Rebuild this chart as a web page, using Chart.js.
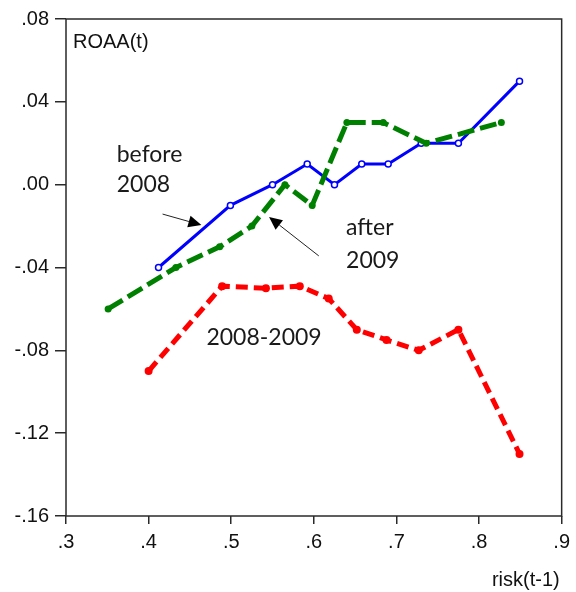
<!DOCTYPE html>
<html>
<head>
<meta charset="utf-8">
<script src="https://cdn.jsdelivr.net/npm/chart.js@4/dist/chart.umd.min.js"></script>
<style>
  body { margin: 0; background: #fff; }
  #grafico { display: block; }
</style>
</head>
<body>
<canvas id="grafico" width="576" height="592"></canvas>
<script>
// datos
const xTicks = [0.3, 0.4, 0.5, 0.6, 0.7, 0.8, 0.9];
const xTickLabels = ['.3', '.4', '.5', '.6', '.7', '.8', '.9'];
const yTicks = [-0.16, -0.12, -0.08, -0.04, 0.00, 0.04, 0.08];
const yTickLabels = ['-.16', '-.12', '-.08', '-.04', '.00', '.04', '.08'];

const antesX = [0.412, 0.499, 0.550, 0.592, 0.625, 0.658, 0.690, 0.730, 0.775, 0.849];
const antesY = [-0.040, -0.010, 0.000, 0.010, 0.000, 0.010, 0.010, 0.020, 0.020, 0.050];

const despuesX = [0.351, 0.433, 0.486, 0.525, 0.565, 0.598, 0.640, 0.684, 0.736, 0.827];
const despuesY = [-0.060, -0.040, -0.030, -0.020, 0.000, -0.010, 0.030, 0.030, 0.020, 0.030];

const crisisX = [0.400, 0.489, 0.542, 0.583, 0.618, 0.652, 0.688, 0.727, 0.775, 0.849];
const crisisY = [-0.090, -0.049, -0.050, -0.049, -0.055, -0.070, -0.075, -0.080, -0.070, -0.130];

const puntos = (xs, ys) => xs.map((x, i) => ({ x: x, y: ys[i] }));

// textos y flechas dentro del grafico (coordenadas de datos)
const textos = [
    { texto: 'before', x: 0.3614, y: 0.0143 },
    { texto: '2008', x: 0.3614, y: -0.0001 },
    { texto: 'after', x: 0.639, y: -0.0209 },
    { texto: '2009', x: 0.639, y: -0.0368 },
    { texto: '2008-2009', x: 0.470, y: -0.074 }
];
const flechas = [
    { x1: 0.4169, y1: -0.0142, x2: 0.4639, y2: -0.0195 },
    { x1: 0.606, y1: -0.0344, x2: 0.5458, y2: -0.0156 }
];

const ctx = document.getElementById('grafico').getContext('2d');

const marco = {
    id: 'marco',
    afterDatasetsDraw(chart) {
        const c = chart.ctx;
        const a = chart.chartArea;
        const sx = chart.scales.x;
        const sy = chart.scales.y;
        c.save();
        c.strokeStyle = '#2a2a2a';
        c.lineWidth = 1.5;
        c.strokeRect(a.left, a.top, a.right - a.left, a.bottom - a.top);

        // titulos de ejes
        c.fillStyle = '#111';
        c.font = '20px "Liberation Sans", Arial, sans-serif';
        c.textBaseline = 'middle';
        c.textAlign = 'left';
        c.fillText('ROAA(t)', a.left + 7, a.top + 23);
        c.textAlign = 'right';
        c.fillText('risk(t-1)', a.right - 2, 580);

        // etiquetas
        c.font = '23px Lato, "Open Sans", sans-serif';
        c.textAlign = 'left';
        c.fillStyle = '#1a1a1a';
        textos.forEach(t => {
            c.fillText(t.texto, sx.getPixelForValue(t.x), sy.getPixelForValue(t.y));
        });

        // flechas
        flechas.forEach(f => {
            const x1 = sx.getPixelForValue(f.x1), y1 = sy.getPixelForValue(f.y1);
            const x2 = sx.getPixelForValue(f.x2), y2 = sy.getPixelForValue(f.y2);
            const ang = Math.atan2(y2 - y1, x2 - x1);
            const largo = 13, ancho = 6;
            const bx = x2 - largo * Math.cos(ang), by = y2 - largo * Math.sin(ang);
            c.strokeStyle = '#222';
            c.lineWidth = 1;
            c.beginPath();
            c.moveTo(x1, y1);
            c.lineTo(bx, by);
            c.stroke();
            c.fillStyle = '#000';
            c.beginPath();
            c.moveTo(x2, y2);
            c.lineTo(bx + ancho * Math.sin(ang), by - ancho * Math.cos(ang));
            c.lineTo(bx - ancho * Math.sin(ang), by + ancho * Math.cos(ang));
            c.closePath();
            c.fill();
        });
        c.restore();
    }
};

new Chart(ctx, {
    type: 'line',
    data: {
        datasets: [
            {
                label: 'after 2009',
                data: puntos(despuesX, despuesY),
                borderColor: '#008000',
                backgroundColor: '#008000',
                borderWidth: 5,
                borderDash: [17, 6],
                pointRadius: 3.5,
                pointBorderWidth: 0,
                order: 0
            },
            {
                label: 'before 2008',
                data: puntos(antesX, antesY),
                borderColor: '#0000ff',
                backgroundColor: '#ffffff',
                borderWidth: 3,
                pointRadius: 3,
                pointBorderWidth: 1.5,
                order: 1
            },
            {
                label: '2008-2009',
                data: puntos(crisisX, crisisY),
                borderColor: '#ff0000',
                backgroundColor: '#ff0000',
                borderWidth: 5,
                borderDash: [12, 6],
                pointRadius: 4,
                pointBorderWidth: 0,
                order: 2
            }
        ]
    },
    options: {
        responsive: false,
        animation: false,
        layout: { padding: { top: 19, right: 11, left: 0, bottom: 0 } },
        plugins: {
            legend: { display: false },
            tooltip: { enabled: false }
        },
        scales: {
            x: {
                type: 'linear',
                min: 0.3,
                max: 0.9,
                afterBuildTicks: s => { s.ticks = xTicks.map(v => ({ value: v })); },
                afterFit: s => { s.height = 76; },
                ticks: {
                    color: '#111',
                    font: { family: '"Liberation Sans", Arial, sans-serif', size: 20 },
                    padding: 6,
                    maxRotation: 0,
                    callback: (v) => xTickLabels[xTicks.findIndex(t => Math.abs(t - v) < 1e-6)]
                },
                grid: { drawOnChartArea: false, tickLength: 8, color: '#2a2a2a', lineWidth: 1.5 },
                border: { display: false }
            },
            y: {
                type: 'linear',
                min: -0.16,
                max: 0.08,
                afterBuildTicks: s => { s.ticks = yTicks.map(v => ({ value: v })); },
                afterFit: s => { s.width = 66; },
                ticks: {
                    color: '#111',
                    font: { family: '"Liberation Sans", Arial, sans-serif', size: 20 },
                    padding: 6,
                    callback: (v) => yTickLabels[yTicks.findIndex(t => Math.abs(t - v) < 1e-6)]
                },
                grid: { drawOnChartArea: false, tickLength: 11, color: '#2a2a2a', lineWidth: 1.5 },
                border: { display: false }
            }
        }
    },
    plugins: [marco]
});
</script>
</body>
</html>
